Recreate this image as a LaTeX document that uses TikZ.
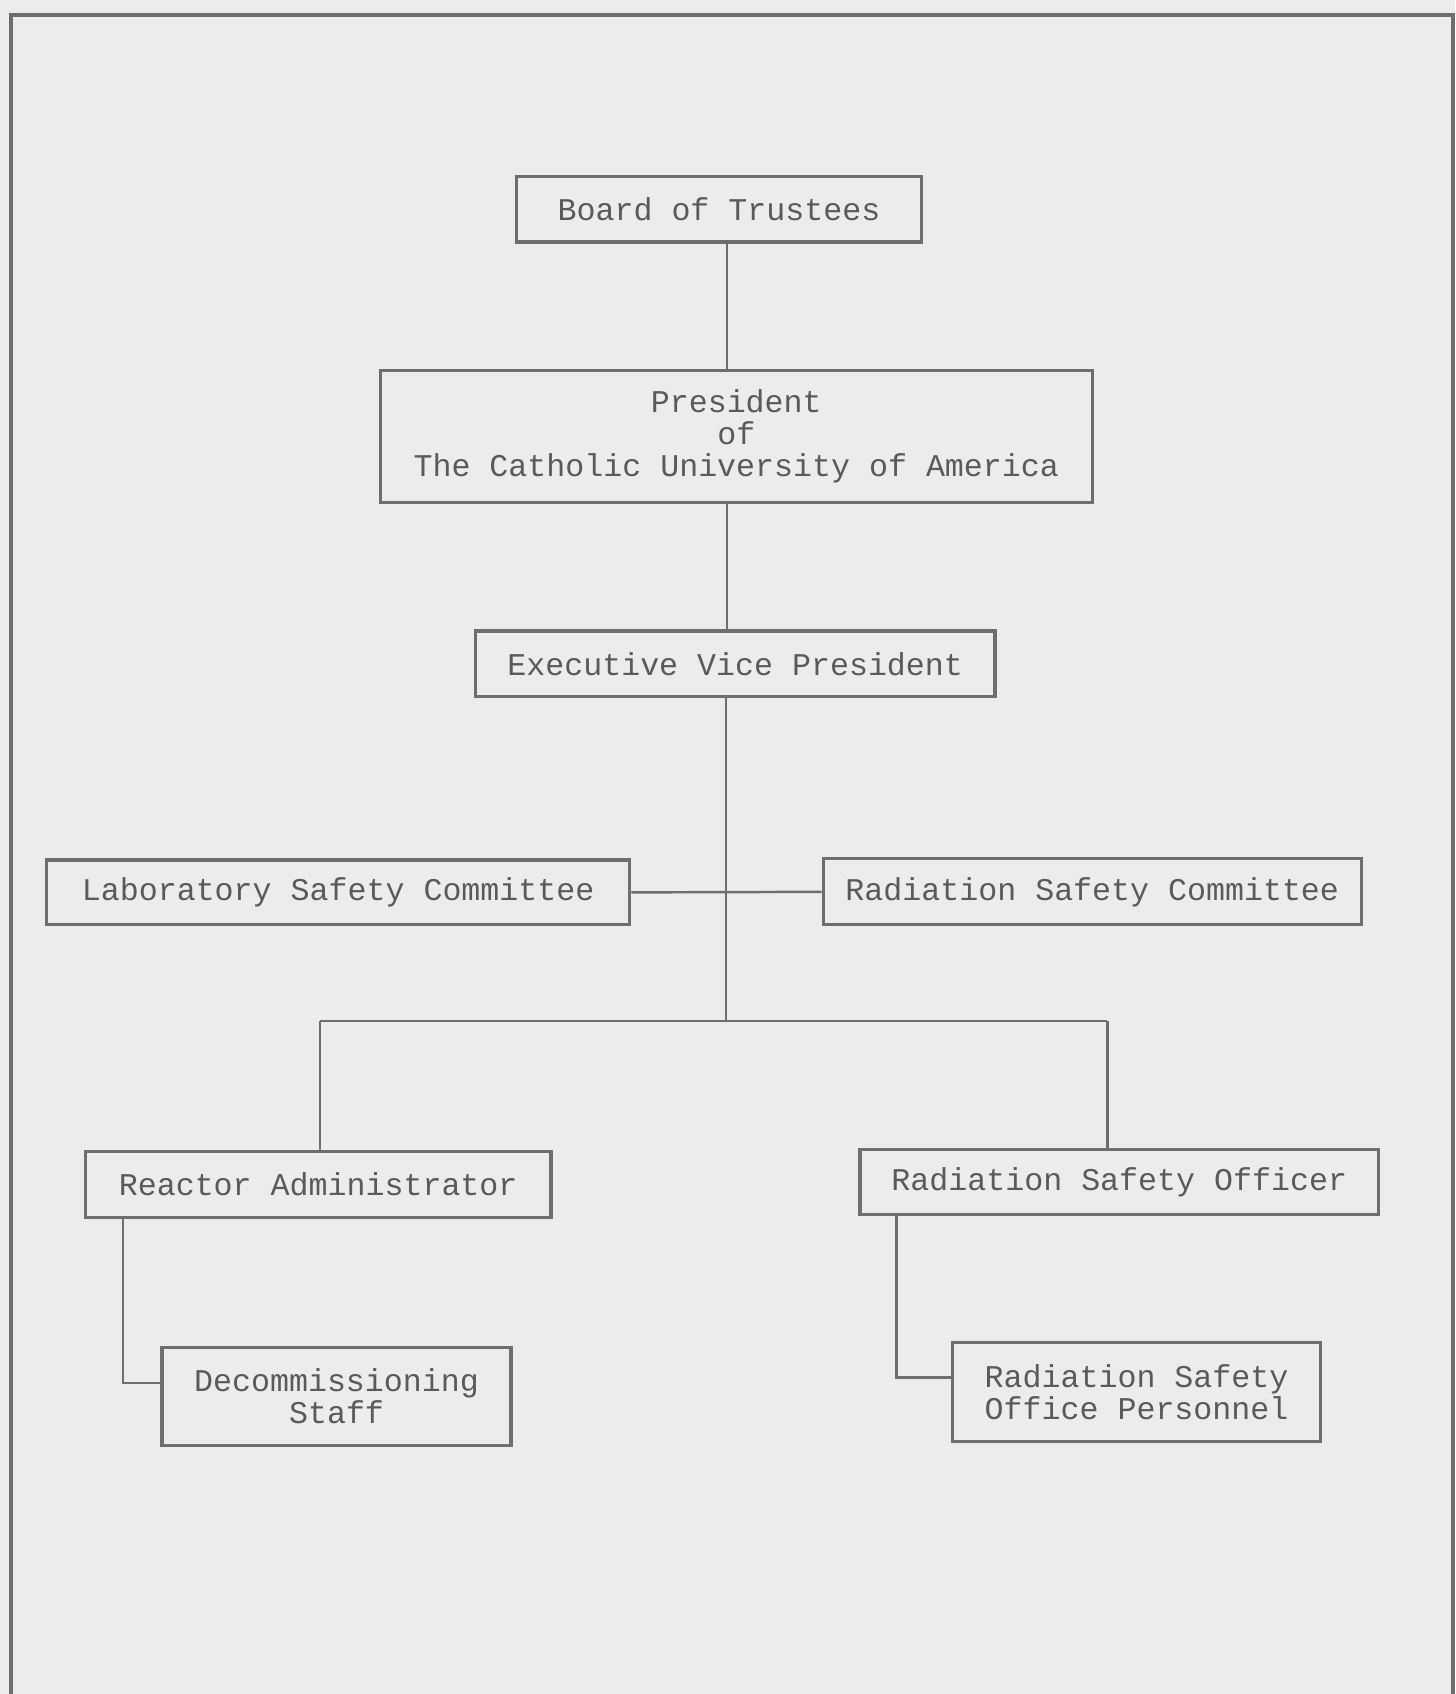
\documentclass[tikz,border=0pt]{standalone}
\usepackage{fontspec}
\setmonofont{Liberation Mono}
\definecolor{paper}{HTML}{ECECEC}
\definecolor{ink}{HTML}{5A5A5A}
\definecolor{rule}{HTML}{6E6E6E}
\begin{document}
\begin{tikzpicture}[x=0.0108cm,y=-0.0108cm,
  orgbox/.style={draw=rule,line width=0.9pt,inner sep=0pt,align=center,
    text=ink,font=\ttfamily\fontsize{9}{9.1}\selectfont},
  link/.style={draw=rule,line width=0.7pt}]
\fill[paper] (0,0) rectangle (1347,1568);
\useasboundingbox (0,0) rectangle (1347,1568);
\draw[rule,line width=1.3pt] (10,1568) -- (10,14) -- (1345,14) -- (1345,1568);
% nodes
\node[orgbox,minimum width=375*0.0108cm,minimum height=61*0.0108cm] (board) at (665.5,193.5) {Board of Trustees};
\node[orgbox,minimum width=659*0.0108cm,minimum height=122*0.0108cm] (pres) at (681.5,404) {President\\of\\The Catholic University of America};
\node[orgbox,minimum width=481*0.0108cm,minimum height=61*0.0108cm] (evp) at (680.5,614.5) {Executive Vice President};
\node[orgbox,minimum width=540*0.0108cm,minimum height=60*0.0108cm] (lsc) at (313,826) {Laboratory Safety Committee};
\node[orgbox,minimum width=498*0.0108cm,minimum height=61*0.0108cm] (rsc) at (1011,825.5) {Radiation Safety Committee};
\node[orgbox,minimum width=431*0.0108cm,minimum height=61*0.0108cm] (ra) at (294.5,1096.5) {Reactor Administrator};
\node[orgbox,minimum width=480*0.0108cm,minimum height=60*0.0108cm] (rso) at (1036,1094) {Radiation Safety Officer};
\node[orgbox,minimum width=323*0.0108cm,minimum height=91*0.0108cm] (ds) at (311.5,1292.5) {Decommissioning\\Staff};
\node[orgbox,minimum width=340*0.0108cm,minimum height=91*0.0108cm] (rsop) at (1052,1288.5) {Radiation Safety\\Office Personnel};
% helper coordinates
\coordinate (spine) at (673,0);
\coordinate (junc) at (672,945);
\coordinate (jl) at (296,945);
\coordinate (jr) at (1025,945);
\coordinate (dsbend) at (114,1280);
\coordinate (rsobend) at (830,1275);
% connectors
\draw[link] (board.south -| spine) -- (pres.north -| spine);
\draw[link] (pres.south -| spine) -- (evp.north -| spine);
\draw[link] (evp.south -| junc) -- (junc);
\draw[link] (lsc.east) -- (rsc.west);
\draw[link] (jl) -- (jr);
\draw[link] (jl) -- (ra.north -| jl);
\draw[link] (jr) -- (rso.north -| jr);
\draw[link] (ra.south -| dsbend) -- (dsbend) -- (ds.west |- dsbend);
\draw[link] (rso.south -| rsobend) -- (rsobend) -- (rsop.west |- rsobend);
\end{tikzpicture}
\end{document}
